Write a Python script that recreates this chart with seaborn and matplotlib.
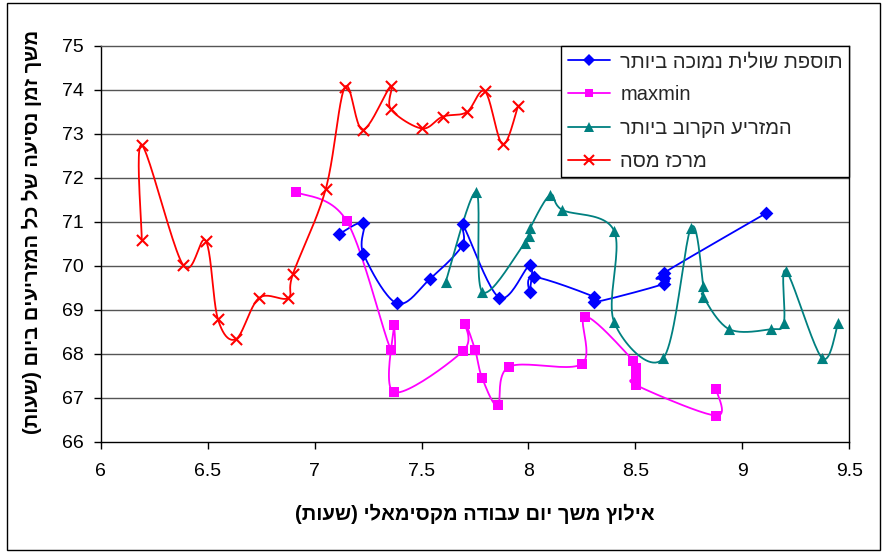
import numpy as np
import matplotlib
matplotlib.use("Agg")
import matplotlib.pyplot as plt
from matplotlib.lines import Line2D
from matplotlib.patches import Rectangle
import seaborn as sns

# ---- data -------------------------------------------------------------
series_names = ["תוספת שולית נמוכה ביותר", "maxmin", "המזריע הקרוב ביותר", "מרכז מסה"]

lowest_x = [7.114, 7.228, 7.228, 7.384, 7.539, 7.692, 7.692, 7.863, 8.007, 8.007,
            8.025, 8.305, 8.305, 8.633, 8.633, 8.633, 9.109]
lowest_y = [70.72, 70.97, 70.28, 69.15, 69.70, 70.47, 70.94, 69.28, 70.02, 69.41,
            69.75, 69.30, 69.17, 69.59, 69.72, 69.84, 71.19]

maxmin_x = [6.912, 7.150, 7.356, 7.371, 7.371, 7.695, 7.703, 7.750, 7.783, 7.856,
            7.910, 8.249, 8.265, 8.490, 8.503, 8.503, 8.503, 8.877, 8.877]
maxmin_y = [71.68, 71.02, 68.10, 68.66, 67.13, 68.07, 68.68, 68.10, 67.46, 66.83,
            67.71, 67.77, 68.85, 67.85, 67.67, 67.47, 67.29, 66.60, 67.21]

nearest_x = [7.613, 7.755, 7.784, 7.984, 8.004, 8.007, 8.101, 8.158, 8.400, 8.400,
             8.630, 8.760, 8.817, 8.817, 8.939, 9.132, 9.194, 9.204, 9.372, 9.448]
nearest_y = [69.64, 71.68, 69.41, 70.53, 70.68, 70.85, 71.61, 71.27, 70.80, 68.73,
             67.90, 70.87, 69.54, 69.30, 68.56, 68.56, 68.71, 69.89, 67.91, 68.70]

centroid_x = [6.192, 6.192, 6.385, 6.491, 6.548, 6.633, 6.740, 6.876, 6.899, 7.052,
              7.142, 7.225, 7.356, 7.356, 7.501, 7.599, 7.711, 7.797, 7.879, 7.952]
centroid_y = [70.59, 72.74, 70.02, 70.57, 68.79, 68.34, 69.27, 69.27, 69.82, 71.74,
              74.06, 73.09, 74.08, 73.56, 73.12, 73.39, 73.49, 73.96, 72.76, 73.64]

x_ticks = [6, 6.5, 7, 7.5, 8, 8.5, 9, 9.5]
x_tick_labels = ["6", "6.5", "7", "7.5", "8", "8.5", "9", "9.5"]
y_ticks = [66, 67, 68, 69, 70, 71, 72, 73, 74, 75]

x_title = "אילוץ משך יום עבודה מקסימאלי (שעות)"
y_title = "משך זמן נסיעה של כל המזריעים ביום (שעות)"


def visual_rtl(text):
    """Lay out a right-to-left string in visual (left-to-right) order."""
    if not any("\u0590" <= ch <= "\u05FF" for ch in text):
        return text
    mirror = {"(": ")", ")": "("}
    return "".join(mirror.get(ch, ch) for ch in reversed(text))


def smooth_curve(xs, ys, steps=24):
    """Cubic Bezier smoothing through every point (Catmull-Rom tangents)."""
    p = np.column_stack([xs, ys]).astype(float)
    ext = np.vstack([p[0], p, p[-1]])
    t = np.linspace(0, 1, steps)[:, None]
    out = []
    for i in range(1, len(ext) - 2):
        p0, p1, p2, p3 = ext[i - 1], ext[i], ext[i + 1], ext[i + 2]
        c1 = p1 + (p2 - p0) / 6.0
        c2 = p2 - (p3 - p1) / 6.0
        seg = ((1 - t) ** 3) * p1 + 3 * ((1 - t) ** 2) * t * c1 + 3 * (1 - t) * t ** 2 * c2 + t ** 3 * p2
        out.append(seg if i == 1 else seg[1:])
    seg = np.vstack(out)
    return seg[:, 0], seg[:, 1]


# ---- styling ----------------------------------------------------------
sns.set_theme(style="white")
plt.rcParams["font.family"] = ["Liberation Sans", "DejaVu Sans"]

fig = plt.figure(figsize=(8.83, 5.53), dpi=100)
ax = fig.add_axes([100.7 / 883, 1 - 442 / 553, (849.3 - 100.7) / 883, (442 - 45.7) / 553])

styles = [
    (lowest_x, lowest_y, "#0000FF", "D", 7),
    (maxmin_x, maxmin_y, "#FF00FF", "s", 7),
    (nearest_x, nearest_y, "#008080", "^", 8),
    (centroid_x, centroid_y, "#FF0000", "x", 8),
]

for (xs, ys, color, marker, ms), name in zip(styles, series_names):
    sx, sy = smooth_curve(xs, ys)
    ax.plot(sx, sy, color=color, lw=1.3, zorder=3)
    sns.scatterplot(x=xs, y=ys, ax=ax, color=color, marker=marker,
                    s=ms ** 2, linewidth=1.5 if marker == "x" else 0,
                    edgecolor=color if marker != "x" else None, zorder=4, legend=False)

ax.set_xlim(6, 9.5)
ax.set_ylim(66, 75)
ax.set_xticks(x_ticks)
ax.set_xticklabels(x_tick_labels)
ax.set_yticks(y_ticks)
ax.grid(False)
for yv in y_ticks[1:-1]:
    ax.axhline(yv, color="#555555", lw=1.0, zorder=1)

for side in ["left", "bottom", "right", "top"]:
    ax.spines[side].set_visible(True)
    ax.spines[side].set_color("black")
    ax.spines[side].set_linewidth(1.0)
ax.spines["top"].set_color("#555555")

ax.tick_params(axis="both", which="both", direction="out", length=5, width=1,
               color="black", labelsize=14, labelcolor="black", pad=7)
ax.tick_params(axis="x", bottom=True, pad=10)
ax.tick_params(axis="y", left=True)

ax.set_xlabel(visual_rtl(x_title), fontsize=14.5, fontweight="bold", labelpad=17, color="black")
ax.set_ylabel(visual_rtl(y_title), fontsize=14.5, fontweight="bold", color="black")
ax.yaxis.set_label_coords(-0.079, 0.53)

handles = [Line2D([0], [0], color=c, marker=m, markersize=ms * 0.9, lw=1.3,
                  markeredgewidth=1.5 if m == "x" else 0, markeredgecolor=c)
           for (_, _, c, m, ms) in styles]
leg = ax.legend(handles, [visual_rtl(n) for n in series_names],
                loc="upper right", bbox_to_anchor=(1.0, 1.0), fontsize=14.5,
                frameon=True, fancybox=False, borderaxespad=0, handlelength=2.1,
                handletextpad=0.5, labelspacing=0.71, borderpad=0.32, framealpha=1)
leg.get_frame().set_edgecolor("black")
leg.get_frame().set_linewidth(1.0)
leg.set_zorder(6)

fig.patches.append(Rectangle((7 / 883, 3 / 553), 873 / 883, 547 / 553,
                             transform=fig.transFigure, fill=False,
                             edgecolor="black", lw=1.0))

fig.savefig("out.png", dpi=100, facecolor="white")
